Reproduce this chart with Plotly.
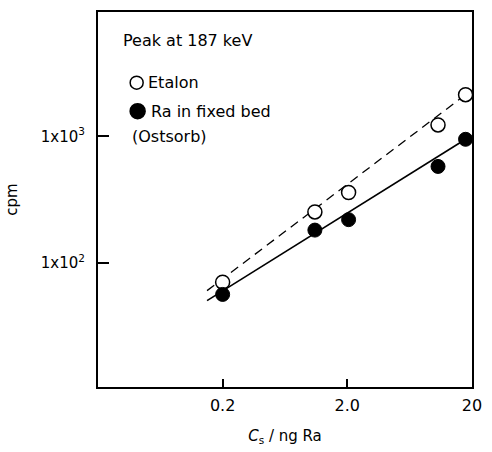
import plotly.graph_objects as go
import math

# ---- data ----
conc_etalon = [0.2, 1.1, 2.05, 10.7, 17.8]          # Cs / ng Ra
cpm_etalon = [70, 252, 359, 1232, 2140]
conc_ra = [0.2, 1.1, 2.05, 10.7, 17.8]
cpm_ra = [56, 181, 219, 578, 948]

# fitted lines (end points)
fit_etalon_x = [0.15, 17.8]
fit_etalon_y = [60, 2140]
fit_ra_x = [0.15, 17.8]
fit_ra_y = [50, 948]

x_tickvals = [0.2, 2.0, 20]
x_ticktext = ["0.2", "2.0", "20"]
y_tickvals = [100, 1000]
y_ticktext = ["1x10<sup>2</sup>", "1x10<sup>3</sup>"]

FONT = "DejaVu Sans"

fig = go.Figure()
fig.add_trace(go.Scatter(x=fit_etalon_x, y=fit_etalon_y, mode="lines",
                         line=dict(color="black", width=1.3, dash="9px,6px"),
                         showlegend=False, hoverinfo="skip"))
fig.add_trace(go.Scatter(x=fit_ra_x, y=fit_ra_y, mode="lines",
                         line=dict(color="black", width=1.6),
                         showlegend=False, hoverinfo="skip"))
fig.add_trace(go.Scatter(x=conc_etalon, y=cpm_etalon, mode="markers",
                         marker=dict(symbol="circle", size=14, color="white",
                                     line=dict(color="black", width=1.5)),
                         showlegend=False))
fig.add_trace(go.Scatter(x=conc_ra, y=cpm_ra, mode="markers",
                         marker=dict(symbol="circle", size=14, color="black",
                                     line=dict(color="black", width=1)),
                         showlegend=False))

L, R, T, B = 93, 12, 10, 60
W, H = 492, 452
pw, ph = W - L - R, H - T - B

def px(x):
    return (x - L) / pw

def py(y):
    return (H - B - y) / ph

# legend symbols
for cx, cy, r, fill in [(133, 82, 6.5, "white"), (134, 111, 7.5, "black")]:
    fig.add_shape(type="circle", xref="paper", yref="paper",
                  xsizemode="pixel", ysizemode="pixel",
                  xanchor=px(cx), yanchor=py(cy),
                  x0=-r, x1=r, y0=-r, y1=r,
                  fillcolor=fill, line=dict(color="black", width=1.5))

ann_font = dict(family=FONT, size=16, color="black")
for text, x, y in [("Peak at 187 keV", 117, 39),
                   ("Etalon", 143, 82),
                   ("Ra in fixed bed", 146, 111),
                   ("(Ostsorb)", 126, 137)]:
    fig.add_annotation(text=text, xref="paper", yref="paper",
                       x=px(x), y=py(y), xanchor="left", yanchor="middle",
                       showarrow=False, font=ann_font)

fig.update_xaxes(type="log", range=[math.log10(0.02), math.log10(20) + 0.001],
                 tickvals=x_tickvals, ticktext=x_ticktext,
                 ticks="inside", ticklen=8, tickwidth=1.5, tickcolor="black",
                 ticklabelstandoff=3,
                 showline=True, linecolor="black", linewidth=2, mirror=True,
                 showgrid=False, zeroline=False,
                 tickfont=dict(family=FONT, size=16, color="black"),
                 title=dict(text="<i>C</i><sub>s</sub> / ng Ra",
                            font=dict(family=FONT, size=15, color="black"),
                            standoff=16))
fig.update_yaxes(type="log", range=[1.015, 3.985],
                 tickvals=y_tickvals, ticktext=y_ticktext,
                 ticks="inside", ticklen=11, tickwidth=1.5, tickcolor="black",
                 ticklabelstandoff=8,
                 showline=True, linecolor="black", linewidth=2, mirror=True,
                 showgrid=False, zeroline=False,
                 tickfont=dict(family=FONT, size=15, color="black"),
                 title=dict(text="cpm",
                            font=dict(family=FONT, size=15, color="black"),
                            standoff=20))

fig.update_layout(width=W, height=H, margin=dict(l=L, r=R, t=T, b=B),
                  plot_bgcolor="white", paper_bgcolor="white",
                  showlegend=False)

fig.write_html("out.html",
               config={"displayModeBar": False},
               post_script="document.body.style.margin='0';"
                           "document.body.style.overflow='hidden';")
